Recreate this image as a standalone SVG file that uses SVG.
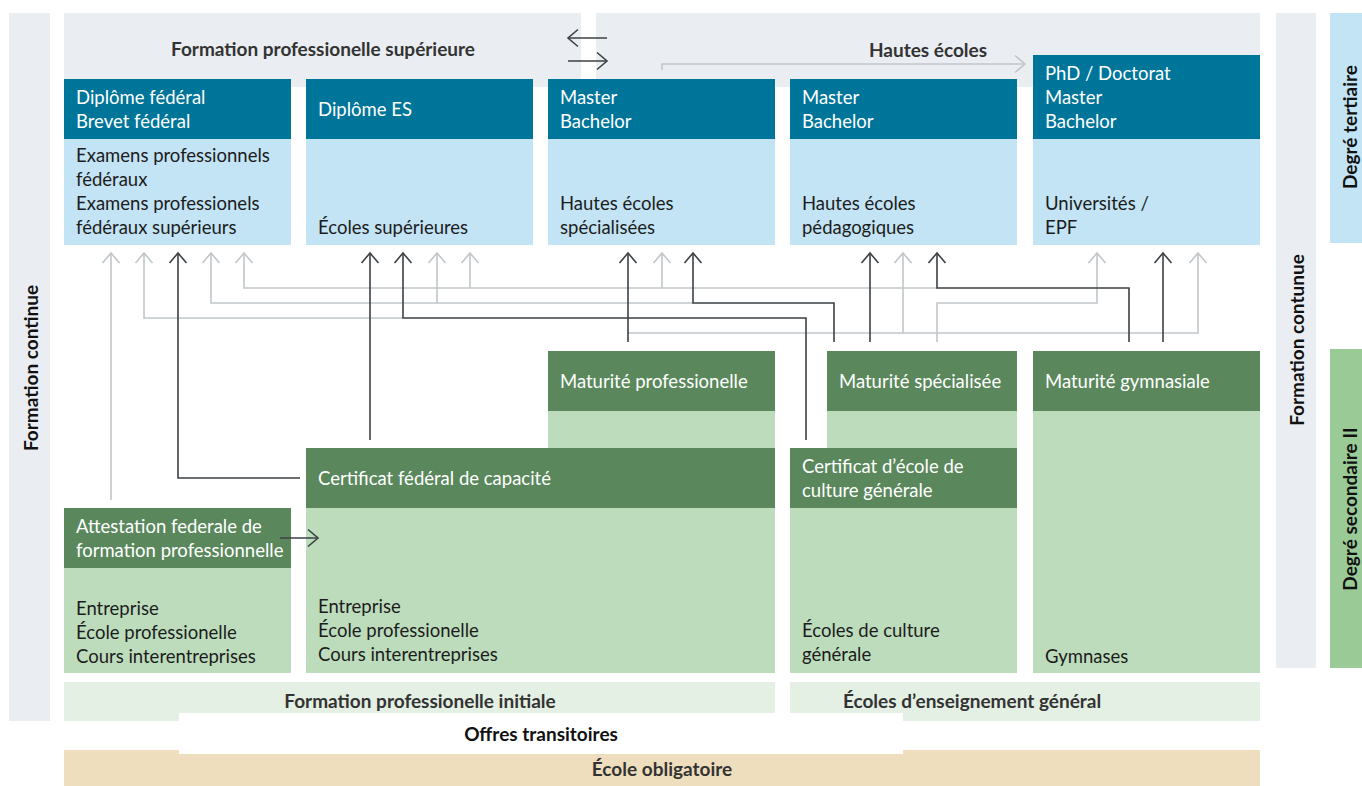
<svg xmlns="http://www.w3.org/2000/svg" width="1362" height="786" viewBox="0 0 1362 786">
<style>
text{font-family:Lato,"Open Sans","Liberation Sans",sans-serif;font-size:18.5px}
.hd{fill:#00759a}.bl{fill:#c2e4f4}.gh{fill:#5a885c}.gb{fill:#bcdcbc}
.band{fill:#eaeef2}.pg{fill:#e4f0e4}
.wt{fill:#ffffff}.dk{fill:#1c1c1c}
.lb{font-weight:bold;fill:#333333;font-size:19px}
.lk{font-weight:bold;fill:#111111;font-size:19px}
.g{fill:none;stroke:#c0c6ca;stroke-width:1.6}
.d{fill:none;stroke:#3c4146;stroke-width:1.6}
</style>
<defs>
<marker id="ag" markerUnits="userSpaceOnUse" markerWidth="24" markerHeight="24" viewBox="-12 -12 24 24" refX="0" refY="0" orient="auto"><path d="M-10,-8.5 L0,0 L-10,8.5" fill="none" stroke="#c0c6ca" stroke-width="1.6"/></marker>
<marker id="ad" markerUnits="userSpaceOnUse" markerWidth="24" markerHeight="24" viewBox="-12 -12 24 24" refX="0" refY="0" orient="auto"><path d="M-10,-8.5 L0,0 L-10,8.5" fill="none" stroke="#3c4146" stroke-width="1.6"/></marker>
</defs>
<rect width="1362" height="786" fill="#ffffff"/>

<g id="bands">
<rect class="band" x="9" y="13" width="41" height="708"/>
<text class="lk" transform="translate(38,368) rotate(-90)" text-anchor="middle">Formation continue</text>
<rect class="band" x="64" y="13" width="517" height="74"/>
<text class="lb" x="323" y="56" text-anchor="middle">Formation professionelle supérieure</text>
<rect class="band" x="596" y="13" width="664" height="74"/>
<text class="lb" x="928" y="57" text-anchor="middle">Hautes écoles</text>
<rect class="band" x="1276" y="13" width="40" height="655"/>
<text class="lk" transform="translate(1304,340) rotate(-90)" text-anchor="middle">Formation contunue</text>
<rect class="bl" x="1330" y="13" width="32" height="230"/>
<text class="lk" transform="translate(1357,127) rotate(-90)" text-anchor="middle">Degré tertiaire</text>
<rect fill="#9aca96" x="1330" y="349" width="32" height="319"/>
<text class="lk" transform="translate(1357,509) rotate(-90)" text-anchor="middle">Degré secondaire II</text>
</g>

<g id="bottom">
<rect class="pg" x="64" y="682" width="711" height="39"/>
<rect class="pg" x="790" y="682" width="470" height="39"/>
<rect fill="#eedebd" x="64" y="750" width="1196" height="36"/>
<rect fill="#ffffff" x="179" y="713" width="724" height="41"/>
<text class="lb" x="420" y="708" text-anchor="middle">Formation professionelle initiale</text>
<text class="lb" x="972" y="708" text-anchor="middle">Écoles d’enseignement général</text>
<text class="lk" x="541" y="741" text-anchor="middle">Offres transitoires</text>
<text class="lb" x="662" y="776" text-anchor="middle">École obligatoire</text>
</g>

<g id="n-federal">
<rect class="hd" x="64" y="79" width="227" height="60"/>
<rect class="bl" x="64" y="139" width="227" height="106"/>
<text class="wt" x="76" y="104">Diplôme fédéral</text>
<text class="wt" x="76" y="128">Brevet fédéral</text>
<text class="dk" x="76" y="162">Examens professionnels</text>
<text class="dk" x="76" y="186">fédéraux</text>
<text class="dk" x="76" y="210">Examens professionels</text>
<text class="dk" x="76" y="234">fédéraux supérieurs</text>
</g>
<g id="n-es">
<rect class="hd" x="306" y="79" width="227" height="60"/>
<rect class="bl" x="306" y="139" width="227" height="106"/>
<text class="wt" x="318" y="116">Diplôme ES</text>
<text class="dk" x="318" y="234">Écoles supérieures</text>
</g>
<g id="n-hes">
<rect class="hd" x="548" y="79" width="227" height="60"/>
<rect class="bl" x="548" y="139" width="227" height="106"/>
<text class="wt" x="560" y="104">Master</text>
<text class="wt" x="560" y="128">Bachelor</text>
<text class="dk" x="560" y="210">Hautes écoles</text>
<text class="dk" x="560" y="234">spécialisées</text>
</g>
<g id="n-hep">
<rect class="hd" x="790" y="79" width="227" height="60"/>
<rect class="bl" x="790" y="139" width="227" height="106"/>
<text class="wt" x="802" y="104">Master</text>
<text class="wt" x="802" y="128">Bachelor</text>
<text class="dk" x="802" y="210">Hautes écoles</text>
<text class="dk" x="802" y="234">pédagogiques</text>
</g>
<g id="n-uni">
<rect class="hd" x="1033" y="55" width="227" height="84"/>
<rect class="bl" x="1033" y="139" width="227" height="106"/>
<text class="wt" x="1045" y="80">PhD / Doctorat</text>
<text class="wt" x="1045" y="104">Master</text>
<text class="wt" x="1045" y="128">Bachelor</text>
<text class="dk" x="1045" y="210">Universités /</text>
<text class="dk" x="1045" y="234">EPF</text>
</g>

<g id="n-matpro">
<rect class="gh" x="548" y="351" width="227" height="60"/>
<rect class="gb" x="548" y="411" width="227" height="37"/>
<text class="wt" x="560" y="388">Maturité professionelle</text>
</g>
<g id="n-matspec">
<rect class="gh" x="827" y="351" width="190" height="60"/>
<rect class="gb" x="827" y="411" width="190" height="37"/>
<text class="wt" x="839" y="388">Maturité spécialisée</text>
</g>
<g id="n-matgym">
<rect class="gh" x="1033" y="351" width="227" height="60"/>
<rect class="gb" x="1033" y="411" width="227" height="262"/>
<text class="wt" x="1045" y="388">Maturité gymnasiale</text>
<text class="dk" x="1045" y="663">Gymnases</text>
</g>
<g id="n-cfc">
<rect class="gh" x="306" y="448" width="469" height="60"/>
<rect class="gb" x="306" y="508" width="469" height="165"/>
<text class="wt" x="318" y="485">Certificat fédéral de capacité</text>
<text class="dk" x="318" y="613">Entreprise</text>
<text class="dk" x="318" y="637">École professionelle</text>
<text class="dk" x="318" y="661">Cours interentreprises</text>
</g>
<g id="n-ecg">
<rect class="gh" x="790" y="448" width="227" height="60"/>
<rect class="gb" x="790" y="508" width="227" height="165"/>
<text class="wt" x="802" y="473">Certificat d’école de</text>
<text class="wt" x="802" y="497">culture générale</text>
<text class="dk" x="802" y="637">Écoles de culture</text>
<text class="dk" x="802" y="661">générale</text>
</g>
<g id="n-afp">
<rect class="gh" x="64" y="508" width="227" height="60"/>
<rect class="gb" x="64" y="568" width="227" height="105"/>
<text class="wt" x="76" y="533">Attestation federale de</text>
<text class="wt" x="76" y="557">formation professionnelle</text>
<text class="dk" x="76" y="615">Entreprise</text>
<text class="dk" x="76" y="639">École professionelle</text>
<text class="dk" x="76" y="663">Cours interentreprises</text>
</g>

<g id="connectors">
<path class="g" d="M111,500 V253" marker-end="url(#ag)"/>
<path class="g" d="M403,318 H144 V253" marker-end="url(#ag)"/>
<path class="g" d="M693,303 H211 V253" marker-end="url(#ag)"/>
<path class="g" d="M437,303 V253" marker-end="url(#ag)"/>
<path class="g" d="M937,288 H244 V253" marker-end="url(#ag)"/>
<path class="g" d="M470,288 V253" marker-end="url(#ag)"/>
<path class="g" d="M662,288 V253" marker-end="url(#ag)"/>
<path class="g" d="M628,333 H1198 V253" marker-end="url(#ag)"/>
<path class="g" d="M903,333 V253" marker-end="url(#ag)"/>
<path class="g" d="M937,342 V303 H1097 V253" marker-end="url(#ag)"/>
<path class="g" d="M662,70 V64 H1025" marker-end="url(#ag)"/>
<path class="d" d="M300,478 H178 V253" marker-end="url(#ad)"/>
<path class="d" d="M370,440 V253" marker-end="url(#ad)"/>
<path class="d" d="M806,440 V318 H403 V253" marker-end="url(#ad)"/>
<path class="d" d="M628,342 V253" marker-end="url(#ad)"/>
<path class="d" d="M834,342 V303 H693 V253" marker-end="url(#ad)"/>
<path class="d" d="M870,342 V253" marker-end="url(#ad)"/>
<path class="d" d="M1129,342 V288 H937 V253" marker-end="url(#ad)"/>
<path class="d" d="M1163,342 V253" marker-end="url(#ad)"/>
<path class="d" d="M280,538 H318" marker-end="url(#ad)"/>
<path class="d" d="M607,38 H568" marker-end="url(#ad)"/>
<path class="d" d="M568,61 H607" marker-end="url(#ad)"/>
</g>
</svg>
